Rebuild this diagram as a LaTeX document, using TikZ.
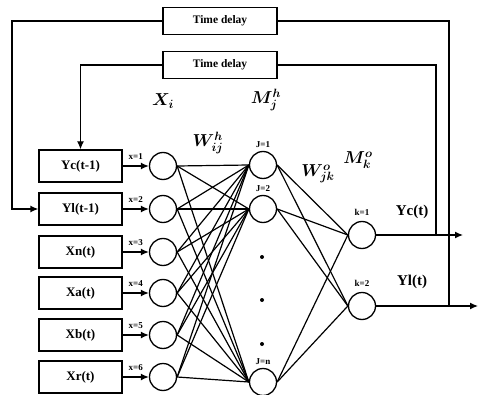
\documentclass[tikz,border=0pt]{standalone}
\usepackage{bm}
\usepackage{fontspec}
\setmainfont{Liberation Serif}
\usetikzlibrary{arrows.meta,positioning}

\begin{document}
\begin{tikzpicture}[
  x=1pt, y=-1pt,
  line width=1.3pt,
  inbox/.style={rectangle, draw, minimum width=83pt, minimum height=32pt,
                font=\bfseries\fontsize{13}{13}\selectfont},
  delay/.style={rectangle, draw, minimum width=114pt, minimum height=27pt,
                font=\bfseries\fontsize{11.5}{11.5}\selectfont},
  neuron/.style={circle, draw, minimum size=27pt, inner sep=0pt},
  tag/.style={font=\bfseries\fontsize{9}{9}\selectfont, inner sep=1pt},
  outlabel/.style={font=\bfseries\fontsize{15}{15}\selectfont},
  layersym/.style={font=\fontsize{17}{17}\selectfont},
  dot/.style={circle, fill, inner sep=0pt, minimum size=4pt},
  arr/.style={-{Latex[length=8pt,width=7pt]}},
  link/.style={line width=1.2pt},
]
  \useasboundingbox (0,0) rectangle (481,395);

  % delay boxes
  \node[delay] (delay1) at (220,21) {Time delay};
  \node[delay] (delay2) at (220,65) {Time delay};

  % input boxes
  \node[inbox] (yc1) at (80.5,166) {Yc(t-1)};
  \node[inbox] (yl1) at (80.5,209) {Yl(t-1)};
  \node[inbox] (xn)  at (80.5,252) {Xn(t)};
  \node[inbox] (xa)  at (80.5,293) {Xa(t)};
  \node[inbox] (xb)  at (80.5,335) {Xb(t)};
  \node[inbox] (xr)  at (80.5,377) {Xr(t)};

  % input layer
  \node[neuron] (x1) at (163,166) {};
  \node[neuron] (x2) at (163,209) {};
  \node[neuron] (x3) at (163,252) {};
  \node[neuron] (x4) at (163,293) {};
  \node[neuron] (x5) at (163,335) {};
  \node[neuron] (x6) at (163,377) {};

  % hidden layer
  \node[neuron] (h1) at (263,165) {};
  \node[neuron] (h2) at (263,209) {};
  \node[neuron] (hn) at (263,382) {};
  \node[dot] (dot1) at (262,257) {};
  \node[dot] (dot2) at (262,300) {};
  \node[dot] (dot3) at (262,344) {};

  % output layer
  \node[neuron] (k1) at (362,235) {};
  \node[neuron] (k2) at (362,306) {};

  % layer symbols
  \node[layersym] (symxi)  at (163,101) {$\bm{X_i}$};
  \node[layersym] (symmjh) at (266,100) {$\bm{M_j^h}$};
  \node[layersym] (symwij) at (208,143) {$\bm{W_{ij}^h}$};
  \node[layersym] (symwjk) at (318,174) {$\bm{W_{jk}^o}$};
  \node[layersym] (symmko) at (358,160) {$\bm{M_k^o}$};

  \node[tag, above=2pt of h1] (lh1) {J=1};
  \node[tag, above=2pt of h2] (lh2) {J=2};
  \node[tag, above=2pt of hn] (lhn) {J=n};
  \node[tag, above=4pt of k1] (lk1) {k=1};
  \node[tag, above=4pt of k2] (lk2) {k=2};

  \node[outlabel] (ycout) at (412,212) {Yc(t)};
  \node[outlabel] (ylout) at (412,282) {Yl(t)};

  % inputs into the net
  \draw[arr] (yc1) -- node[tag, above=5pt]{x=1} (x1);
  \draw[arr] (yl1) -- node[tag, above=5pt]{x=2} (x2);
  \draw[arr] (xn)  -- node[tag, above=5pt]{x=3} (x3);
  \draw[arr] (xa)  -- node[tag, above=5pt]{x=4} (x4);
  \draw[arr] (xb)  -- node[tag, above=5pt]{x=5} (x5);
  \draw[arr] (xr)  -- node[tag, above=5pt]{x=6} (x6);

  % input -> hidden
  \draw[link] (x1.east) -- (h1.west);
  \draw[link] (x1.east) -- (h2.west);
  \draw[link] (x1.east) -- (hn.west);
  \draw[link] (x2.east) -- (h1.west);
  \draw[link] (x2.east) -- (h2.west);
  \draw[link] (x2.east) -- (hn.west);
  \draw[link] (x3.east) -- (h1.west);
  \draw[link] (x3.east) -- (h2.west);
  \draw[link] (x3.east) -- (hn.west);
  \draw[link] (x4.east) -- (h1.west);
  \draw[link] (x4.east) -- (h2.west);
  \draw[link] (x4.east) -- (hn.west);
  \draw[link] (x5.east) -- (h1.west);
  \draw[link] (x5.east) -- (h2.west);
  \draw[link] (x5.east) -- (hn.west);
  \draw[link] (x6.east) -- (h1.west);
  \draw[link] (x6.east) -- (h2.west);
  \draw[link] (x6.east) -- (hn.west);

  % hidden -> output
  \draw[link] (h1.east) -- (k1.west);
  \draw[link] (h1.east) -- (k2.west);
  \draw[link] (h2.east) -- (k1.west);
  \draw[link] (h2.east) -- (k2.west);
  \draw[link] (hn.east) -- (k1.west);
  \draw[link] (hn.east) -- (k2.west);

  % outputs and feedback
  \coordinate (ycend) at (463,235);
  \coordinate (ylend) at (478,306);
  \coordinate (ctap) at (436,235);
  \coordinate (ltap) at (449,306);
  \coordinate (lturn) at (12,209);

  \draw[arr] (k1.east) -- (ycend);
  \draw[arr] (k2.east) -- (ylend);
  \draw (delay2.east) -| (ctap);
  \draw (delay1.east) -| (ltap);
  \draw[arr] (delay2.west) -| (yc1.north);
  \draw[arr] (delay1.west) -| (lturn) -- (yl1.west);
\end{tikzpicture}
\end{document}
